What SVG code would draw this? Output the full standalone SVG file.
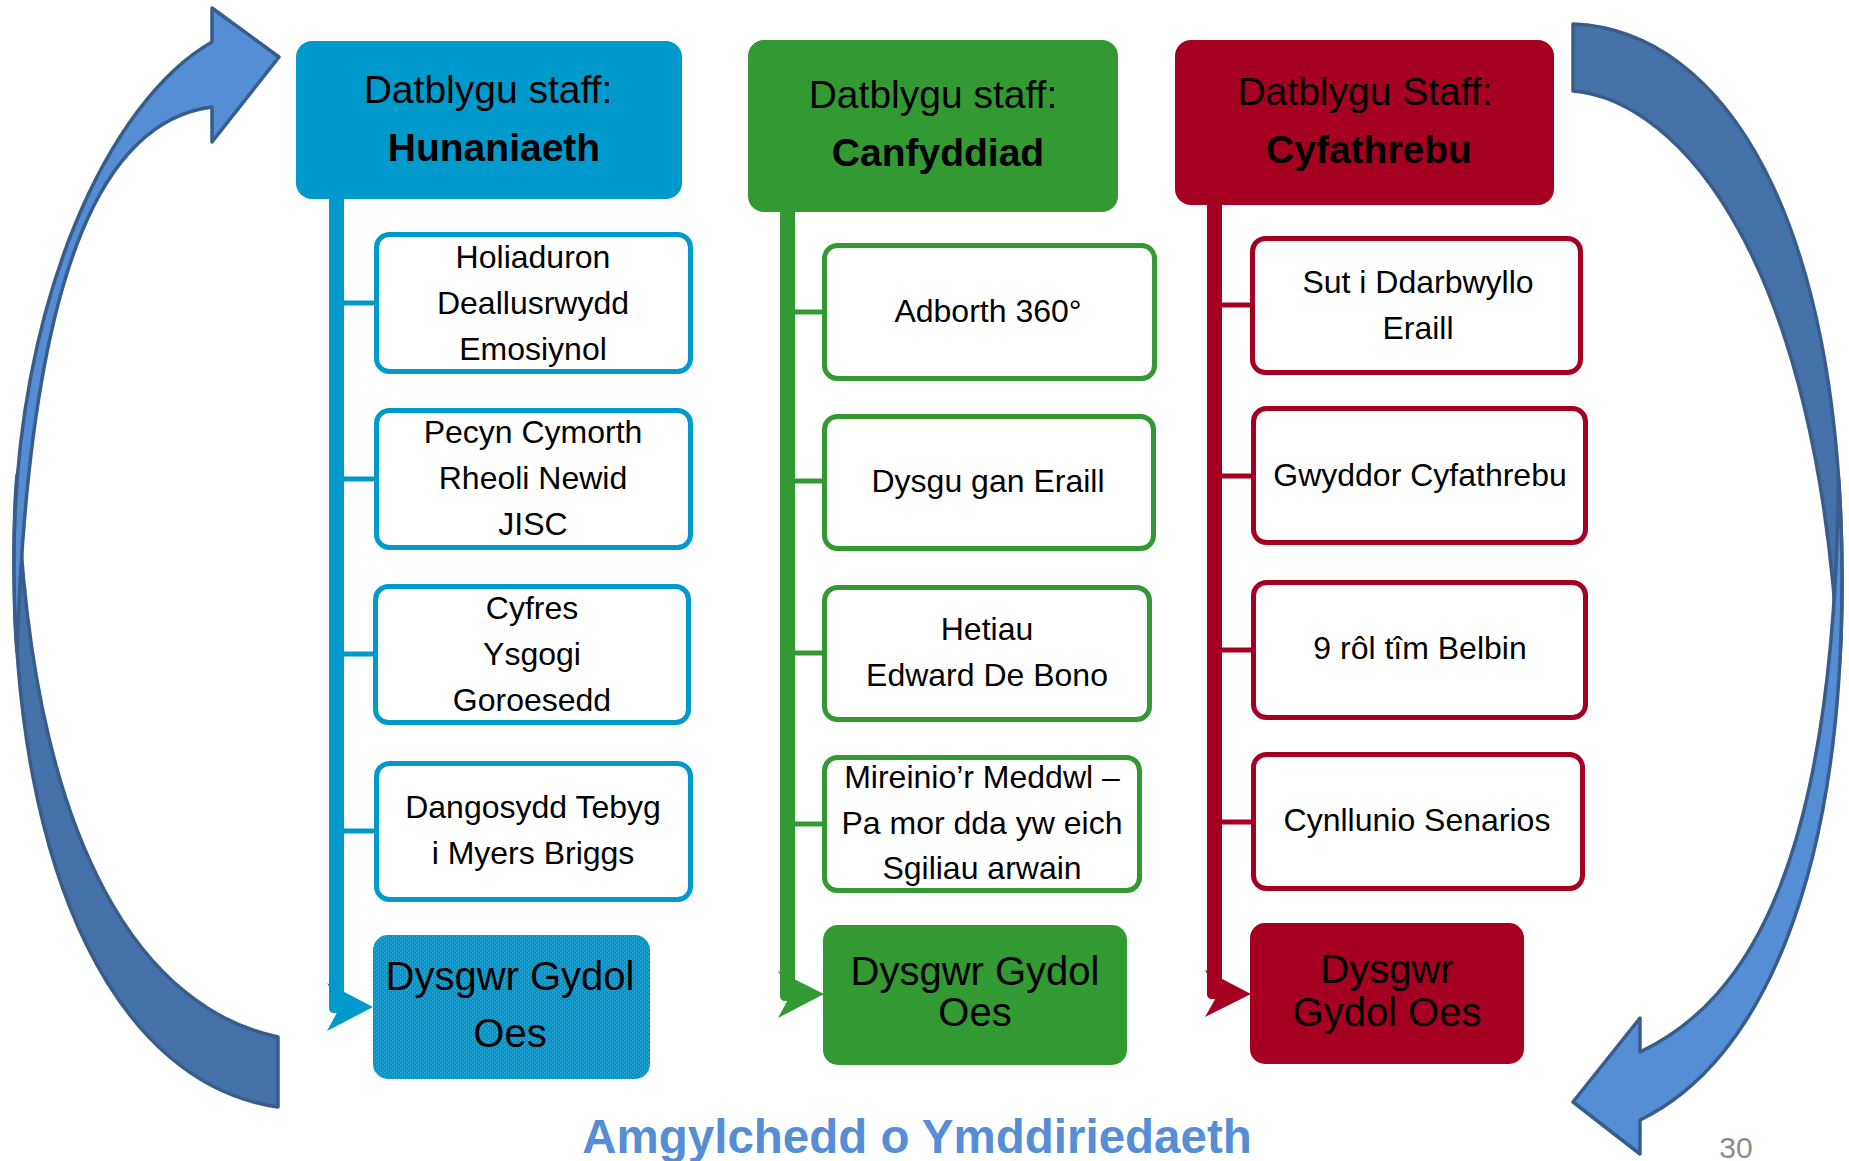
<svg xmlns="http://www.w3.org/2000/svg" width="1849" height="1161" viewBox="0 0 1849 1161">
  <defs>
    <!-- fine grain used on the blue "Dysgwr Gydol Oes" box -->
    <pattern id="grain" width="4" height="4" patternUnits="userSpaceOnUse">
      <rect width="4" height="4" fill="#0799cb"/>
      <rect x="0" y="0" width="1" height="1" fill="#3fb1dc"/>
      <rect x="2" y="2" width="1" height="1" fill="#3fb1dc"/>
      <rect x="1" y="2" width="1" height="1" fill="#0388b8"/>
      <rect x="3" y="0" width="1" height="1" fill="#0388b8"/>
    </pattern>
    <style>
      text { font-family: "Liberation Sans", Arial, sans-serif; fill: #000; text-anchor: middle; }
      .hd { font-size: 39px; }
      .hdb { font-size: 39px; font-weight: bold; }
      .it { font-size: 32px; }
      .bt { font-size: 40px; }
      .item { fill: #fff; stroke-width: 5; }
      .blue { stroke: #0099cc; }
      .green { stroke: #339933; }
      .red { stroke: #a50021; }
      .branch { stroke-width: 5; fill: none; }
      .cyc-dark { fill: #4571a9; stroke: #385d8a; stroke-width: 3.5; stroke-linejoin: round; }
      .cyc-light { fill: #558ed5; stroke: #385d8a; stroke-width: 3.5; stroke-linejoin: round; }
    </style>
  </defs>

  <rect width="1849" height="1161" fill="#fff"/>

  <!-- cycle arrows round the three columns; both bands share one outer silhouette -->
  <g id="cycle-left">
    <path class="cyc-dark" d="M278,1107 C120,1085 14,880 14,560 C14,520 15,495 17,475 C30,860 150,1010 278,1037 Z"/>
    <path class="cyc-light" d="M212,42 C110,100 14,300 14,560 C14,600 15,630 17,652 C30,250 110,120 212,107 L212,142 L279,57 L212,8 Z"/>
  </g>
  <g id="cycle-right">
    <path class="cyc-dark" d="M1573,24 C1725,30 1842,220 1842,580 C1842,620 1841,650 1839,670 C1820,260 1680,100 1573,91 Z"/>
    <path class="cyc-light" d="M1640,1052 C1750,1000 1835,860 1838.5,477 C1841,510 1842,545 1842,580 C1842,880 1760,1062 1640,1120 L1640,1154 L1573,1102 L1640,1018 Z"/>
  </g>

  <!-- trunks, branches and arrowheads -->
  <g id="connectors">
    <g fill="#0099cc">
      <path d="M329,199 V1008 Q329,1013 334,1013 H344 V199 Z"/>
      <polygon points="327,983 373,1007 327,1031 340,1007"/>
    </g>
    <g class="branch blue">
      <line x1="344" y1="303" x2="375" y2="303"/>
      <line x1="344" y1="479" x2="375" y2="479"/>
      <line x1="344" y1="654" x2="375" y2="654"/>
      <line x1="344" y1="831" x2="375" y2="831"/>
    </g>
    <g fill="#339933">
      <path d="M780,212 V996 Q780,1001 785,1001 H795 V212 Z"/>
      <polygon points="778,971 824,994 778,1018 791,994"/>
    </g>
    <g class="branch green">
      <line x1="795" y1="312" x2="823" y2="312"/>
      <line x1="795" y1="481" x2="823" y2="481"/>
      <line x1="795" y1="653" x2="823" y2="653"/>
      <line x1="795" y1="824" x2="823" y2="824"/>
    </g>
    <g fill="#a50021">
      <path d="M1207,205 V994 Q1207,999 1212,999 H1222 V205 Z"/>
      <polygon points="1205,970 1251,994 1205,1017 1218,994"/>
    </g>
    <g class="branch red">
      <line x1="1222" y1="305" x2="1252" y2="305"/>
      <line x1="1222" y1="476" x2="1252" y2="476"/>
      <line x1="1222" y1="650" x2="1252" y2="650"/>
      <line x1="1222" y1="822" x2="1252" y2="822"/>
    </g>
  </g>

  <!-- column 1: Hunaniaeth -->
  <g id="head-hunaniaeth">
    <rect x="296" y="41" width="386" height="158" rx="16" fill="#0099cc"/>
    <text class="hd" x="488" y="103">Datblygu staff:</text>
    <text class="hdb" x="494" y="161">Hunaniaeth</text>
  </g>
  <g id="item-holiaduron">
    <rect class="item blue" x="376.5" y="234.5" width="314" height="137" rx="13"/>
    <text class="it" x="533" y="268">Holiaduron</text>
    <text class="it" x="533" y="314">Deallusrwydd</text>
    <text class="it" x="533" y="360">Emosiynol</text>
  </g>
  <g id="item-pecyn">
    <rect class="item blue" x="376.5" y="410.5" width="314" height="137" rx="13"/>
    <text class="it" x="533" y="443">Pecyn Cymorth</text>
    <text class="it" x="533" y="489">Rheoli Newid</text>
    <text class="it" x="533" y="535">JISC</text>
  </g>
  <g id="item-cyfres">
    <rect class="item blue" x="375.5" y="586.5" width="313" height="136" rx="13"/>
    <text class="it" x="532" y="619">Cyfres</text>
    <text class="it" x="532" y="665">Ysgogi</text>
    <text class="it" x="532" y="711">Goroesedd</text>
  </g>
  <g id="item-dangosydd">
    <rect class="item blue" x="376.5" y="763.5" width="314" height="136" rx="13"/>
    <text class="it" x="533" y="818">Dangosydd Tebyg</text>
    <text class="it" x="533" y="864">i Myers Briggs</text>
  </g>
  <g id="goal-blue">
    <rect x="373" y="935" width="277" height="144" rx="15" fill="url(#grain)"/>
    <text class="bt" x="510" y="990">Dysgwr Gydol</text>
    <text class="bt" x="510" y="1047">Oes</text>
  </g>

  <!-- column 2: Canfyddiad -->
  <g id="head-canfyddiad">
    <rect x="748" y="40" width="370" height="172" rx="16" fill="#339933"/>
    <text class="hd" x="933" y="108">Datblygu staff:</text>
    <text class="hdb" x="938" y="166">Canfyddiad</text>
  </g>
  <g id="item-adborth">
    <rect class="item green" x="824.5" y="245.5" width="330" height="133" rx="13"/>
    <text class="it" x="988" y="322">Adborth 360°</text>
  </g>
  <g id="item-dysgu">
    <rect class="item green" x="824.5" y="416.5" width="329" height="132" rx="13"/>
    <text class="it" x="988" y="492">Dysgu gan Eraill</text>
  </g>
  <g id="item-hetiau">
    <rect class="item green" x="824.5" y="587.5" width="325" height="132" rx="13"/>
    <text class="it" x="987" y="640">Hetiau</text>
    <text class="it" x="987" y="686">Edward De Bono</text>
  </g>
  <g id="item-mireinio">
    <rect class="item green" x="824.5" y="757.5" width="315" height="133" rx="13"/>
    <text class="it" x="982" y="788">Mireinio’r Meddwl –</text>
    <text class="it" x="982" y="834">Pa mor dda yw eich</text>
    <text class="it" x="982" y="879">Sgiliau arwain</text>
  </g>
  <g id="goal-green">
    <rect x="823" y="925" width="304" height="140" rx="15" fill="#339933"/>
    <text class="bt" x="975" y="985">Dysgwr Gydol</text>
    <text class="bt" x="975" y="1026">Oes</text>
  </g>

  <!-- column 3: Cyfathrebu -->
  <g id="head-cyfathrebu">
    <rect x="1175" y="40" width="379" height="165" rx="16" fill="#a50021"/>
    <text class="hd" x="1365" y="105">Datblygu Staff:</text>
    <text class="hdb" x="1369" y="163">Cyfathrebu</text>
  </g>
  <g id="item-darbwyllo">
    <rect class="item red" x="1252.5" y="238.5" width="328" height="134" rx="13"/>
    <text class="it" x="1418" y="293">Sut i Ddarbwyllo</text>
    <text class="it" x="1418" y="339">Eraill</text>
  </g>
  <g id="item-gwyddor">
    <rect class="item red" x="1253.5" y="408.5" width="332" height="134" rx="13"/>
    <text class="it" x="1420" y="486">Gwyddor Cyfathrebu</text>
  </g>
  <g id="item-belbin">
    <rect class="item red" x="1253.5" y="582.5" width="332" height="135" rx="13"/>
    <text class="it" x="1420" y="659">9 rôl tîm Belbin</text>
  </g>
  <g id="item-senarios">
    <rect class="item red" x="1253.5" y="754.5" width="329" height="134" rx="13"/>
    <text class="it" x="1417" y="831">Cynllunio Senarios</text>
  </g>
  <g id="goal-red">
    <rect x="1250" y="923" width="274" height="141" rx="15" fill="#a50021"/>
    <text class="bt" x="1387" y="983">Dysgwr</text>
    <text class="bt" x="1387" y="1026">Gydol Oes</text>
  </g>

  <!-- caption and page number -->
  <text x="917" y="1153" style="font-size:47.5px;font-weight:bold;fill:#558ed5">Amgylchedd o Ymddiriedaeth</text>
  <text x="1736" y="1158" style="font-size:30px;fill:#8c8c8c">30</text>
</svg>
